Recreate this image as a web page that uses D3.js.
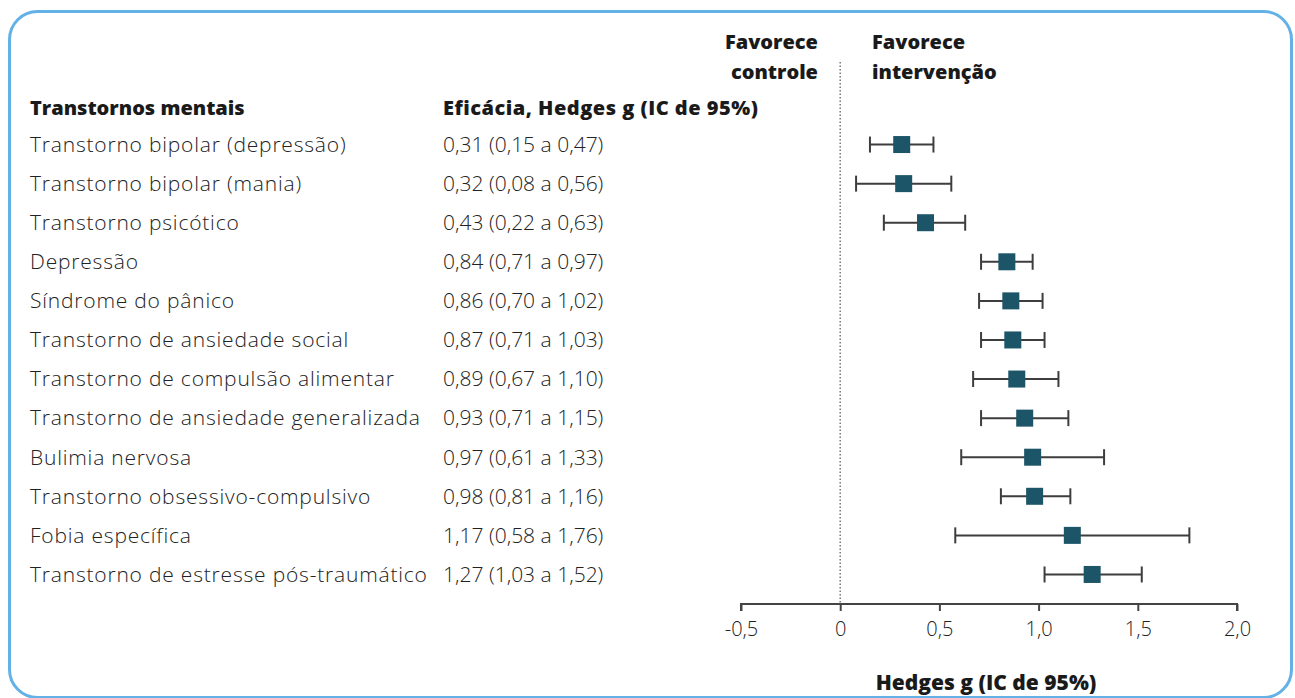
<!DOCTYPE html>
<html>
<head>
<meta charset="utf-8">
<script src="https://cdn.jsdelivr.net/npm/d3@7"></script>
<style>
  body { margin: 0; background: #fff; }
  svg { display: block; }
  .lbl { font-family: "Open Sans", Lato, sans-serif; font-weight: 300; font-size: 21px; fill: #222; }
  .name { letter-spacing: 0.8px; }
  .hdr { font-family: "Open Sans", Lato, sans-serif; font-weight: 800; font-size: 20px; fill: #1a1a1a; }
</style>
</head>
<body>
<div id="vis"></div>
<script>
// data
var disorders = [
  "Transtorno bipolar (depressão)",
  "Transtorno bipolar (mania)",
  "Transtorno psicótico",
  "Depressão",
  "Síndrome do pânico",
  "Transtorno de ansiedade social",
  "Transtorno de compulsão alimentar",
  "Transtorno de ansiedade generalizada",
  "Bulimia nervosa",
  "Transtorno obsessivo-compulsivo",
  "Fobia específica",
  "Transtorno de estresse pós-traumático"
];
var effect = [0.31, 0.32, 0.43, 0.84, 0.86, 0.87, 0.89, 0.93, 0.97, 0.98, 1.17, 1.27];
var lower  = [0.15, 0.08, 0.22, 0.71, 0.70, 0.71, 0.67, 0.71, 0.61, 0.81, 0.58, 1.03];
var upper  = [0.47, 0.56, 0.63, 0.97, 1.02, 1.03, 1.10, 1.15, 1.33, 1.16, 1.76, 1.52];
var tickValues = [-0.5, 0, 0.5, 1.0, 1.5, 2.0];
var tickLabels = ["-0,5", "0", "0,5", "1,0", "1,5", "2,0"];

var width = 1295, height = 698;

function fmt(v) { return v.toFixed(2).replace(".", ","); }

var svg = d3.select("#vis").append("svg")
  .attr("width", width)
  .attr("height", height);

// rounded frame
svg.append("rect")
  .attr("x", 9.5).attr("y", 11.5)
  .attr("width", 1282).attr("height", 686)
  .attr("rx", 28).attr("ry", 28)
  .attr("fill", "none")
  .attr("stroke", "#63b1e6")
  .attr("stroke-width", 3);

var x = d3.scaleLinear().domain([-0.5, 2.0]).range([741, 1237]);
var y = d3.scaleBand().domain(disorders).range([125, 594]).padding(0);

// headers
svg.append("text").attr("class", "hdr").attr("x", 30).attr("y", 115).text("Transtornos mentais");
svg.append("text").attr("class", "hdr").attr("x", 443).attr("y", 115)
  .style("letter-spacing", "0.5px").text("Eficácia, Hedges g (IC de 95%)");

svg.append("text").attr("class", "hdr").attr("x", 818).attr("y", 49).attr("text-anchor", "end").text("Favorece");
svg.append("text").attr("class", "hdr").attr("x", 818).attr("y", 79).attr("text-anchor", "end").text("controle");
svg.append("text").attr("class", "hdr").attr("x", 872).attr("y", 49).text("Favorece");
svg.append("text").attr("class", "hdr").attr("x", 872).attr("y", 79).text("intervenção");

// row labels
var rows = svg.selectAll("g.row").data(disorders).enter().append("g")
  .attr("class", "row")
  .attr("transform", function(d) { return "translate(0," + (y(d) + y.bandwidth() / 2) + ")"; });

rows.append("text").attr("class", "lbl name").attr("x", 30).attr("dy", "0.35em")
  .text(function(d) { return d; });
rows.append("text").attr("class", "lbl").attr("x", 443).attr("dy", "0.35em")
  .text(function(d, i) { return fmt(effect[i]) + " (" + fmt(lower[i]) + " a " + fmt(upper[i]) + ")"; });

// zero line
svg.append("line")
  .attr("x1", x(0)).attr("x2", x(0))
  .attr("y1", 62).attr("y2", 604)
  .attr("stroke", "#777").attr("stroke-width", 1.5)
  .attr("stroke-dasharray", "1.5,2");

// error bars
var cap = 8;
rows.append("line")
  .attr("x1", function(d, i) { return x(lower[i]); })
  .attr("x2", function(d, i) { return x(upper[i]); })
  .attr("stroke", "#3d3d3d").attr("stroke-width", 2);
rows.append("line")
  .attr("x1", function(d, i) { return x(lower[i]); })
  .attr("x2", function(d, i) { return x(lower[i]); })
  .attr("y1", -cap).attr("y2", cap)
  .attr("stroke", "#3d3d3d").attr("stroke-width", 2);
rows.append("line")
  .attr("x1", function(d, i) { return x(upper[i]); })
  .attr("x2", function(d, i) { return x(upper[i]); })
  .attr("y1", -cap).attr("y2", cap)
  .attr("stroke", "#3d3d3d").attr("stroke-width", 2);
rows.append("rect")
  .attr("x", function(d, i) { return x(effect[i]) - 8.5; })
  .attr("y", -8.5)
  .attr("width", 17).attr("height", 17)
  .attr("fill", "#1d5568");

// axis
var axis = d3.axisBottom(x)
  .tickValues(tickValues)
  .tickSize(7)
  .tickFormat(function(d, i) { return tickLabels[i]; });

var gAxis = svg.append("g")
  .attr("transform", "translate(0,604)")
  .call(axis);
gAxis.select(".domain").attr("stroke", "#444").attr("stroke-width", 2).attr("d", "M" + x(-0.5) + ",7V0H" + x(2.0) + "V7");
gAxis.selectAll(".tick line").attr("stroke", "#444").attr("stroke-width", 2);
gAxis.selectAll(".tick text")
  .attr("class", "lbl")
  .attr("y", 18)
  .attr("dy", "0.71em")
  .style("font-size", "20px")
  .attr("fill", "#222");

svg.append("text").attr("class", "hdr")
  .attr("x", 986).attr("y", 690)
  .attr("text-anchor", "middle")
  .style("font-size", "21px")
  .text("Hedges g (IC de 95%)");
</script>
</body>
</html>
